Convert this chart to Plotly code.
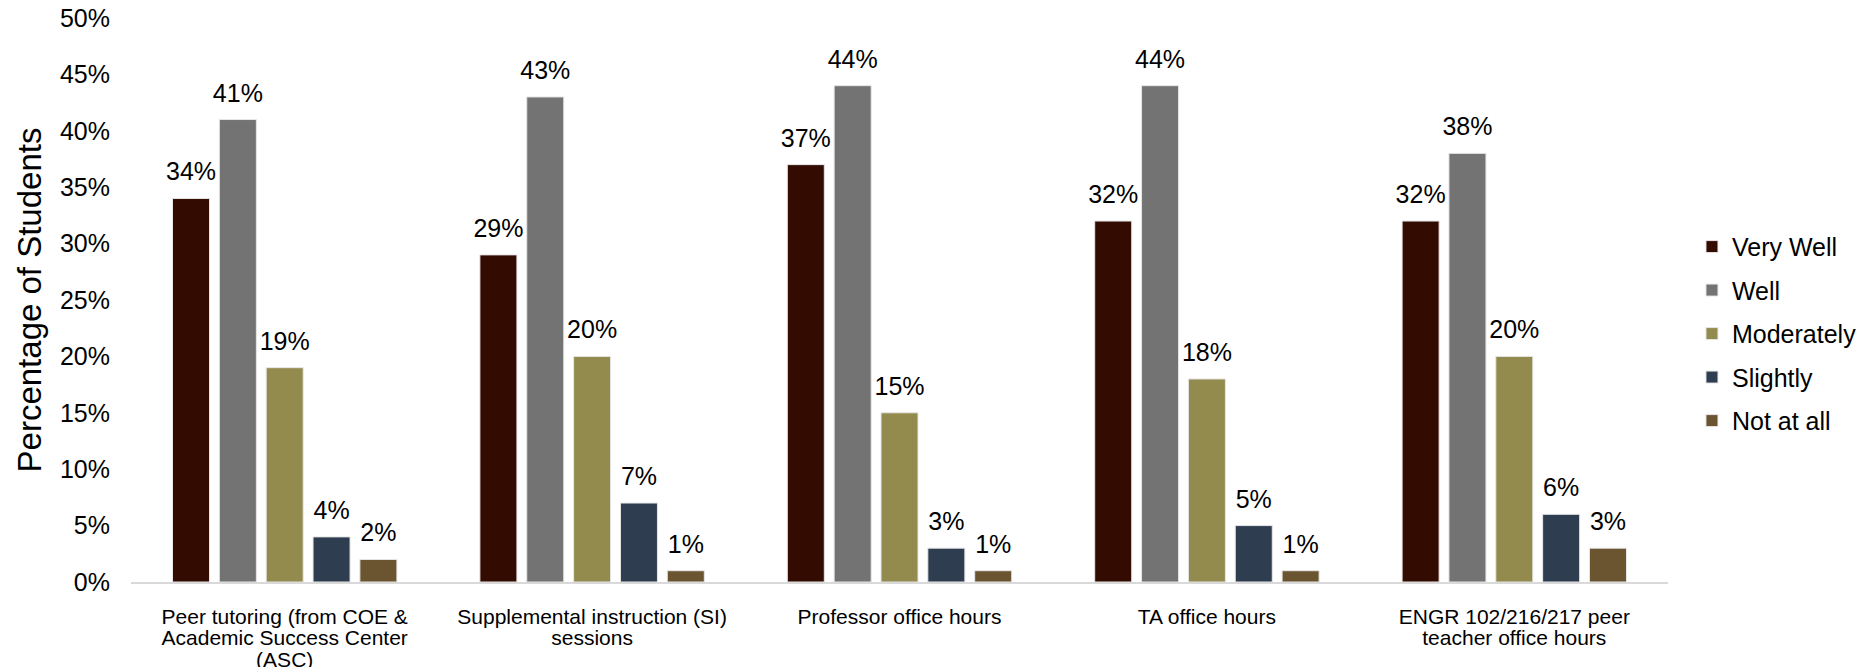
import plotly.graph_objects as go

categories = [
    "Peer tutoring (from COE & Academic Success Center (ASC)",
    "Supplemental instruction (SI) sessions",
    "Professor office hours",
    "TA office hours",
    "ENGR 102/216/217 peer teacher office hours",
]
category_tick_lines = [
    ["Peer tutoring (from COE &", "Academic Success Center", "(ASC)"],
    ["Supplemental instruction (SI)", "sessions"],
    ["Professor office hours"],
    ["TA office hours"],
    ["ENGR 102/216/217 peer", "teacher office hours"],
]
series_names = ["Very Well", "Well", "Moderately", "Slightly", "Not at all"]
very_well = [34, 29, 37, 32, 32]
well = [41, 43, 44, 44, 38]
moderately = [19, 20, 15, 18, 20]
slightly = [4, 7, 3, 5, 6]
not_at_all = [2, 1, 1, 1, 3]
series_values = [very_well, well, moderately, slightly, not_at_all]
colors = ["#330B00", "#737373", "#938A4E", "#2E3D50", "#6B5430"]
y_ticks = list(range(0, 51, 5))
y_tick_labels = [f"{v}%" for v in y_ticks]

FONT = "Liberation Sans, Arial, sans-serif"
NBSP = "\u00a0"

x_tick_text = ["<br>".join(f"<span style='font-size:21px'>{ln}</span>" for ln in lines)
               for lines in category_tick_lines]

fig = go.Figure()
for name, vals, col in zip(series_names, series_values, colors):
    fig.add_trace(go.Bar(
        name=name, x=categories, y=vals,
        marker=dict(color=col, line=dict(color="#E6E6E6", width=1)),
        text=[f"<span style='font-size:25px'>{v}%</span><br>{NBSP}" for v in vals],
        textposition="outside",
        textfont=dict(size=10, color="#000000", family=FONT),
        constraintext="none",
        cliponaxis=False, legendgroup=name,
    ))

fig.update_layout(
    width=1864, height=659,
    margin=dict(l=123, r=199, t=10, b=85),
    paper_bgcolor="white", plot_bgcolor="white",
    font=dict(family=FONT, color="#000000"),
    barmode="group", bargap=0.238, bargroupgap=0.21,
    showlegend=True,
    legend=dict(x=1.0156, xanchor="left", y=0.44, yanchor="middle",
                font=dict(size=25, family=FONT), tracegroupgap=8,
                bgcolor="rgba(0,0,0,0)"),
    xaxis=dict(showline=True, linecolor="#D9D9D9", linewidth=2, automargin=False,
               showgrid=False, ticks="", tickvals=categories, ticktext=x_tick_text,
               ticklabelstandoff=20, ticklabeloverflow="allow",
               tickfont=dict(size=16.5, family=FONT)),
    yaxis=dict(range=[0, 50], tickvals=y_ticks, ticktext=y_tick_labels,
               showgrid=False, zeroline=False, showline=False, automargin=False,
               ticklabelstandoff=20, ticklabeloverflow="allow",
               tickfont=dict(size=25, family=FONT),
               title=dict(text="Percentage of Students", font=dict(size=33, family=FONT), standoff=8)),
)

fig.write_html("out.html")
